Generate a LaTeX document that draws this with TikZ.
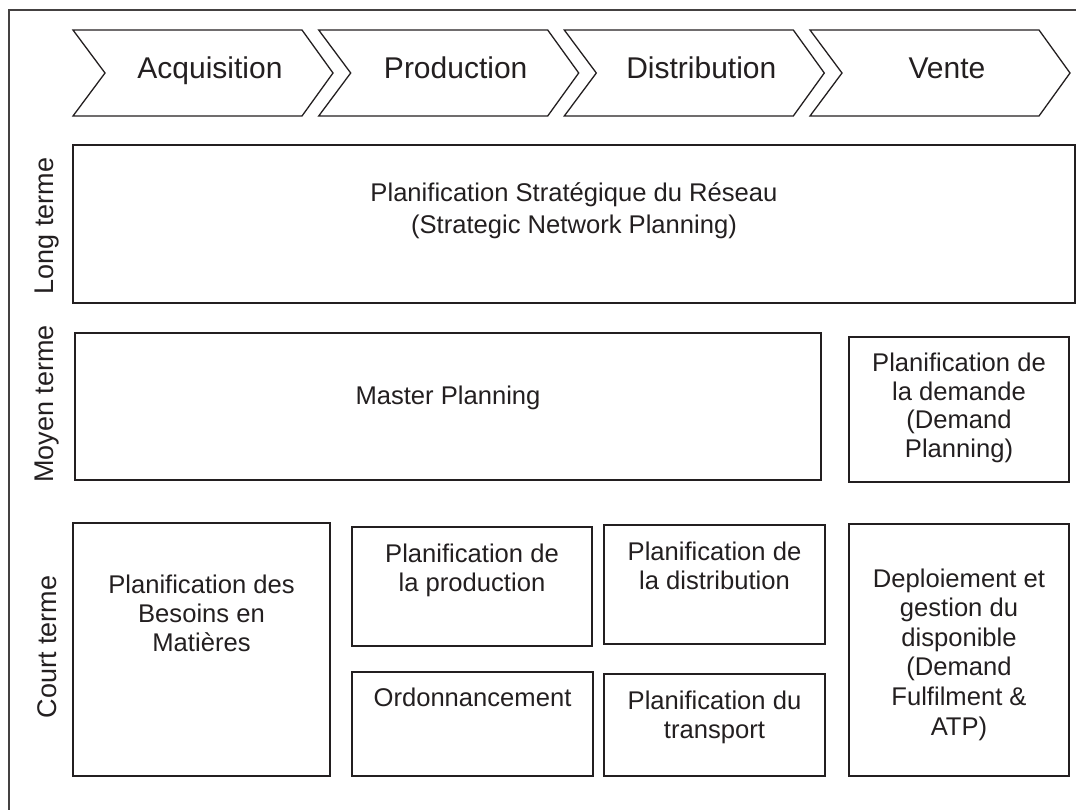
\documentclass[tikz,border=0pt]{standalone}
\usepackage{fontspec}
\setmainfont{Liberation Sans}
\definecolor{ink}{RGB}{35,31,32}
\begin{document}
\begin{tikzpicture}[x=1pt,y=-1pt,
  frame/.style={draw=ink!85,line width=1.3pt},
  chev/.style={draw=ink,line width=1.3pt,line join=miter},
  box/.style={draw=ink,line width=1.7pt},
  chevtxt/.style={text=ink,font=\fontsize{30}{36}\selectfont,inner sep=0pt},
  boxtxt/.style={text=ink,font=\fontsize{25.6}{29}\selectfont,align=center,inner sep=0pt},
  sidetxt/.style={text=ink,font=\fontsize{27}{32}\selectfont,rotate=90,inner sep=0pt}]
\useasboundingbox (0,0) rectangle (1076,809);
\draw[frame] (9,815) -- (9,10) -- (1080,10);
% value chain chevrons
\foreach \l/\nm/\txt in {73/acq/Acquisition, 318.7/prod/Production, 564.3/dist/Distribution, 810/vente/Vente}{
  \draw[chev] (\l,30) -- ++(229,0) -- ++(31,43) -- ++(-31,43) -- ++(-229,0) -- ++(32,-43) -- cycle;
  \node[chevtxt,anchor=base] (\nm) at (\l+137,78) {\txt};
}
% horizon labels
\node[sidetxt] (long) at (47,226) {Long terme};
\node[sidetxt] (moyen) at (47,404) {Moyen terme};
\node[sidetxt] (court) at (47,647) {Court terme};
% boxes (text anchors are on the baseline of the last line)
\draw[box] (73,145) rectangle (1075,303);
\node[boxtxt,anchor=base,font=\fontsize{25.6}{32}\selectfont] (snp) at (574,233) {Planification Stratégique du Réseau\\(Strategic Network Planning)};
\draw[box] (75,333) rectangle (821,480);
\node[boxtxt,anchor=base] (mp) at (448,404) {Master Planning};
\draw[box] (849,337) rectangle (1069,482);
\node[boxtxt,anchor=base,font=\fontsize{25.6}{28.4}\selectfont] (dp) at (959,457) {Planification de\\la demande\\(Demand\\Planning)};
\draw[box] (73,523) rectangle (330,776);
\node[boxtxt,anchor=base] (mrp) at (201.5,651) {Planification des\\Besoins en\\Matières};
\draw[box] (352,527) rectangle (592,646);
\node[boxtxt,anchor=base] (pp) at (472,591) {Planification de\\la production};
\draw[box] (352,672) rectangle (593,776);
\node[boxtxt,anchor=base] (ordo) at (472.5,706) {Ordonnancement};
\draw[box] (604,525) rectangle (825,644);
\node[boxtxt,anchor=base] (dplan) at (714.5,589) {Planification de\\la distribution};
\draw[box] (604,674) rectangle (825,776);
\node[boxtxt,anchor=base] (tp) at (714.5,738) {Planification du\\transport};
\draw[box] (849,524) rectangle (1069,776);
\node[boxtxt,anchor=base,font=\fontsize{25.6}{29.6}\selectfont] (df) at (959,735) {Deploiement et\\gestion du\\disponible\\(Demand\\Fulfilment \&\\ATP)};
\end{tikzpicture}
\end{document}
